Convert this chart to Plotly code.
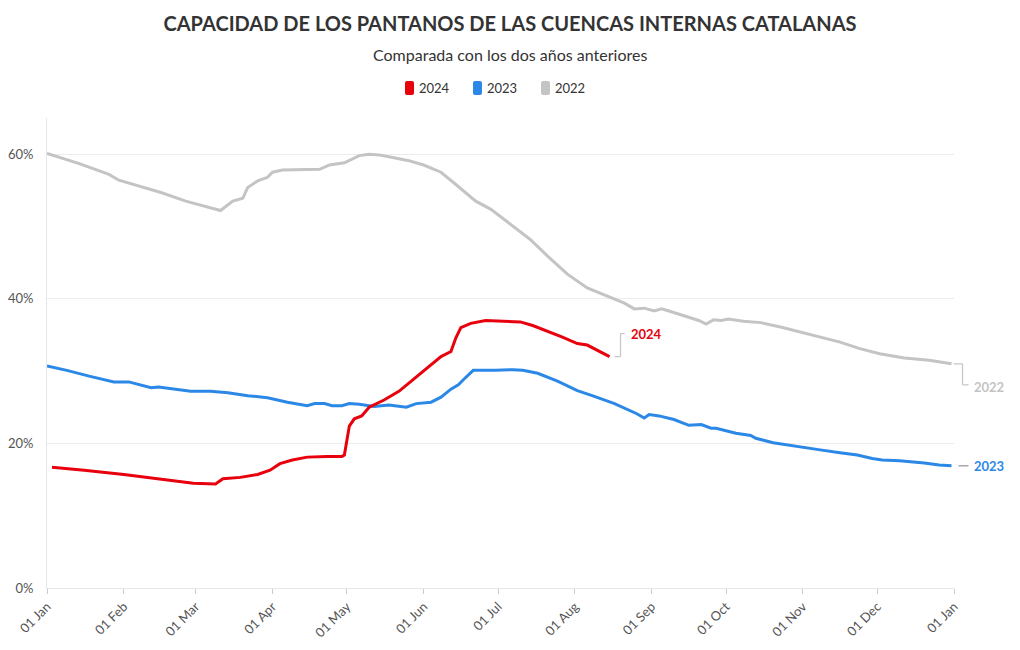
import pandas as pd
import plotly.graph_objects as go

# ---------------- data (day of year offset from 01 Jan, % of capacity) ----------------
days_2022 = [0, 13, 25, 29, 46, 56, 70, 75, 79, 81, 85, 89, 91, 95, 110, 114, 120, 126, 130, 134,
             140, 144, 146, 152, 159, 165, 173, 179, 187, 195, 202, 210, 218, 226, 233, 237, 241,
             245, 248, 251, 258, 263, 266, 269, 272, 275, 281, 288, 296, 304, 312, 320, 328, 336,
             346, 351, 356, 365]
vals_2022 = [60.1, 58.7, 57.2, 56.4, 54.7, 53.5, 52.2, 53.5, 53.9, 55.4, 56.3, 56.8, 57.5, 57.8,
             57.9, 58.5, 58.8, 59.8, 60.0, 59.9, 59.5, 59.2, 59.1, 58.5, 57.5, 55.8, 53.5, 52.4,
             50.3, 48.2, 45.9, 43.4, 41.5, 40.4, 39.4, 38.6, 38.7, 38.3, 38.6, 38.3, 37.5, 37.0,
             36.5, 37.1, 37.0, 37.2, 36.9, 36.7, 36.1, 35.4, 34.7, 34.0, 33.1, 32.4, 31.8, 31.7,
             31.5, 31.0]

days_2023 = [0, 8, 17, 27, 33, 38, 42, 45, 51, 58, 66, 73, 81, 89, 97, 105, 108, 112, 115, 119,
             122, 126, 132, 138, 145, 149, 155, 159, 163, 166, 168, 172, 181, 188, 192, 198, 206,
             214, 220, 229, 238, 241, 243, 247, 253, 259, 264, 268, 270, 274, 278, 284, 286, 293,
             300, 307, 312, 320, 327, 333, 337, 344, 348, 354, 360, 365]
vals_2023 = [30.7, 30.1, 29.3, 28.5, 28.5, 28.1, 27.7, 27.8, 27.5, 27.2, 27.2, 27.0, 26.6, 26.3,
             25.7, 25.2, 25.5, 25.5, 25.2, 25.2, 25.5, 25.4, 25.1, 25.3, 25.0, 25.5, 25.7, 26.4,
             27.5, 28.1, 28.8, 30.1, 30.1, 30.2, 30.1, 29.7, 28.6, 27.3, 26.6, 25.5, 24.1, 23.5,
             24.0, 23.8, 23.3, 22.5, 22.6, 22.1, 22.1, 21.8, 21.4, 21.1, 20.7, 20.1, 19.7, 19.3,
             19.1, 18.7, 18.4, 17.9, 17.7, 17.6, 17.5, 17.3, 17.0, 16.9]

days_2024 = [2, 15, 31, 48, 59, 68, 71, 78, 85, 90, 94, 99, 105, 113, 119, 120, 122, 124, 127,
             130, 136, 142, 147, 151, 154, 159, 163, 165, 167, 171, 177, 183, 191, 196, 203, 208,
             214, 218, 227]
vals_2024 = [16.7, 16.3, 15.7, 15.0, 14.5, 14.4, 15.1, 15.3, 15.7, 16.3, 17.2, 17.7, 18.1, 18.2,
             18.2, 18.4, 22.4, 23.4, 23.8, 25.0, 26.0, 27.2, 28.6, 29.7, 30.6, 32.0, 32.7, 34.6,
             36.0, 36.6, 37.0, 36.9, 36.8, 36.3, 35.4, 34.7, 33.8, 33.6, 32.0]

series_names = ["2024", "2023", "2022"]
y_ticks = [0, 20, 40, 60]
y_tick_labels = ["0%", "20%", "40%", "60%"]

# ---------------- styling ----------------
BASE = pd.Timestamp("2024-01-01")
DAYS_IN_AXIS = 366
Y_MAX = 65
COLORS = {"2024": "#e8000d", "2023": "#2b88e6", "2022": "#c4c4c4"}
FONT = "Source Sans Pro, Lato, sans-serif"
W, H = 1020, 650
ML, MR, MT, MB = 47, 66, 118, 62
PW, PH = W - ML - MR, H - MT - MB


def to_dates(days):
    return [BASE + pd.Timedelta(days=d) for d in days]


def px_x(px):  # page pixel -> paper x
    return (px - ML) / PW


def px_y(py):  # page pixel -> paper y
    return (H - MB - py) / PH


data = {
    "2022": (days_2022, vals_2022),
    "2023": (days_2023, vals_2023),
    "2024": (days_2024, vals_2024),
}

fig = go.Figure()
for name in ["2022", "2023", "2024"]:
    d, v = data[name]
    fig.add_trace(go.Scatter(x=to_dates(d), y=v, mode="lines", name=name,
                             line=dict(color=COLORS[name], width=3),
                             showlegend=False, hoverinfo="skip"))

shapes = []
annotations = []

# ---------------- custom legend (rounded swatches + text) ----------------
legend_left = 405
legend_step = 68
for i, name in enumerate(series_names):
    x0 = legend_left + i * legend_step
    shapes.append(dict(type="path", xref="paper", yref="paper",
                       xsizemode="pixel", ysizemode="pixel",
                       xanchor=px_x(x0), yanchor=px_y(88),
                       path="M 2 -7 L 7 -7 Q 9 -7 9 -5 L 9 5 Q 9 7 7 7 L 2 7 Q 0 7 0 5 "
                            "L 0 -5 Q 0 -7 2 -7 Z",
                       fillcolor=COLORS[name], line=dict(width=0), layer="above"))
    annotations.append(dict(text=name, x=px_x(x0 + 12), y=px_y(88), xref="paper", yref="paper",
                            showarrow=False, xanchor="left", yanchor="middle",
                            font=dict(family=FONT, size=13, color="#333333")))


# ---------------- end labels with brackets ----------------
def seg(xa, ya, x0, x1, y0, y1, color):
    shapes.append(dict(type="line", xref="paper", yref="paper",
                       xsizemode="pixel", ysizemode="pixel",
                       xanchor=xa, yanchor=ya, x0=x0, x1=x1, y0=y0, y1=y1,
                       line=dict(color=color, width=1.3), layer="above"))


label_cfg = {
    "2024": ("up", 19, 23),
    "2022": ("down", 20, -23),
    "2023": ("flat", 20, 0),
}
for name, (kind, tx, ty) in label_cfg.items():
    d, v = data[name]
    xa = d[-1] / DAYS_IN_AXIS
    ya = v[-1] / Y_MAX
    bcol = "#c8c8c8" if name != "2023" else "#9a9a9a"
    if kind == "up":
        seg(xa, ya, 5, 11, 0, 0, bcol)
        seg(xa, ya, 11, 11, 0, 23, bcol)
        seg(xa, ya, 11, 15, 23, 23, bcol)
    elif kind == "down":
        seg(xa, ya, 2, 11, 0, 0, bcol)
        seg(xa, ya, 11, 11, 0, -21, bcol)
        seg(xa, ya, 11, 17, -21, -21, bcol)
    else:
        seg(xa, ya, 7, 17, 0, 0, bcol)
    annotations.append(dict(x=to_dates([d[-1]])[0], y=v[-1], xref="x", yref="y",
                            text=f"<b>{name}</b>", showarrow=False,
                            xanchor="left", yanchor="middle", xshift=tx, yshift=ty,
                            font=dict(family=FONT, size=13, color=COLORS[name])))

annotations.append(dict(text="Comparada con los dos años anteriores", x=px_x(W / 2), y=px_y(54),
                        xref="paper", yref="paper", showarrow=False,
                        xanchor="center", yanchor="middle",
                        font=dict(family=FONT, size=16, color="#333333")))

tick_days = [0, 31, 60, 91, 121, 152, 182, 213, 244, 274, 305, 335, 366]

fig.update_layout(
    width=W, height=H,
    paper_bgcolor="white", plot_bgcolor="white",
    margin=dict(l=ML, r=MR, t=MT, b=MB, autoexpand=False),
    title=dict(text="<b>CAPACIDAD DE LOS PANTANOS DE LAS CUENCAS INTERNAS CATALANAS</b>",
               x=0.5, xref="container", xanchor="center",
               y=1 - 24 / H, yref="container", yanchor="middle",
               font=dict(family=FONT, size=20, color="#333333")),
    showlegend=False,
    hovermode=False,
    font=dict(family=FONT, color="#555555"),
    shapes=shapes,
    annotations=annotations,
    xaxis=dict(range=[BASE, BASE + pd.Timedelta(days=DAYS_IN_AXIS)],
               tickvals=to_dates(tick_days), tickformat="%d %b", tickangle=-45,
               ticks="outside", ticklen=5, tickcolor="#cccccc",
               showgrid=False, showline=True, linecolor="#e6e6e6", linewidth=1,
               zeroline=False, tickfont=dict(family=FONT, size=13, color="#555555")),
    yaxis=dict(range=[0, Y_MAX], tickvals=y_ticks, ticktext=y_tick_labels,
               showgrid=True, gridcolor="#ececec", gridwidth=1,
               showline=True, linecolor="#e6e6e6", linewidth=1,
               zeroline=False, ticks="", ticklabelstandoff=10,
               tickfont=dict(family=FONT, size=13, color="#555555")),
)

fig.write_html("out.html", config={"displayModeBar": False},
               post_script="document.body.style.margin='0';")
